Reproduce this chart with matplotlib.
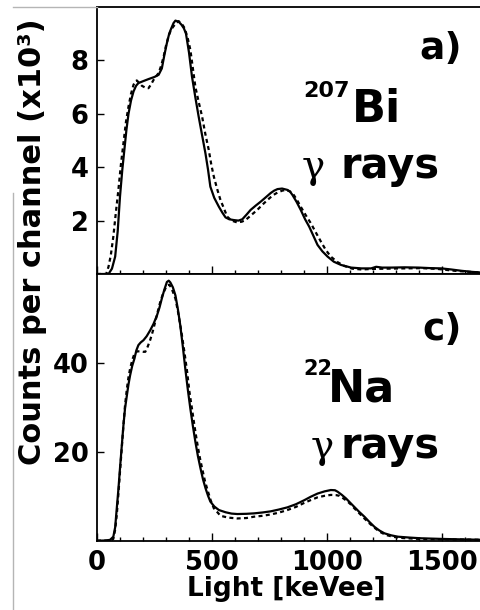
import numpy as np
import matplotlib
matplotlib.use("Agg")
import matplotlib.pyplot as plt
from matplotlib.lines import Line2D
from matplotlib.ticker import MultipleLocator, FixedLocator

# 207Bi spectrum (counts x10^3) - measured (solid) and simulated (dashed)
bi_meas_e = [0, 50, 65, 79, 90, 100, 110, 119, 128, 137, 148, 159, 170, 180, 200, 224, 250, 268, 282,
             293, 304, 314, 323, 333, 341, 355, 367, 378, 387, 400, 413, 428, 442, 457, 472, 483, 493,
             510, 530, 545, 559, 575, 595, 615, 632, 650, 668, 690, 712, 735, 755, 770, 785, 805, 828,
             840, 850, 868, 886, 905, 923, 940, 959, 980, 1003, 1030, 1061, 1105, 1150, 1192, 1214,
             1240, 1280, 1338, 1400, 1450, 1498, 1540, 1585, 1630, 1680]
bi_meas_y = [0, 0.0, 0.2, 0.65, 1.6, 2.9, 3.9, 4.65, 5.4, 6.0, 6.5, 6.84, 7.05, 7.15, 7.22, 7.3, 7.38,
             7.46, 7.7, 8.2, 8.65, 9.0, 9.2, 9.4, 9.49, 9.45, 9.34, 9.2, 9.0, 8.3, 7.4, 6.6, 5.9, 5.2,
             4.5, 3.9, 3.27, 2.85, 2.52, 2.3, 2.12, 2.05, 2.02, 2.0, 2.05, 2.22, 2.4, 2.56, 2.71, 2.88,
             3.03, 3.12, 3.18, 3.2, 3.15, 3.08, 2.96, 2.7, 2.4, 2.05, 1.77, 1.45, 1.09, 0.85, 0.65,
             0.46, 0.34, 0.24, 0.21, 0.21, 0.27, 0.24, 0.24, 0.25, 0.24, 0.22, 0.21, 0.17, 0.12, 0.08,
             0.05]

bi_sim_e = [0, 40, 50, 60, 71, 82, 93, 104, 115, 126, 137, 148, 159, 166, 173, 184, 195, 210, 224, 235,
            246, 257, 268, 279, 290, 300, 311, 322, 333, 344, 355, 368, 381, 394, 406, 417, 428, 442,
            457, 471, 486, 497, 508, 522, 537, 550, 566, 585, 610, 630, 646, 670, 697, 720, 741, 765,
            785, 805, 821, 838, 850, 868, 886, 908, 930, 952, 974, 995, 1017, 1045, 1076, 1110, 1150,
            1200, 1266, 1340, 1410, 1480, 1556, 1620, 1680]
bi_sim_y = [0, 0.0, 0.27, 0.7, 1.4, 2.3, 3.15, 4.1, 4.9, 5.7, 6.27, 6.75, 7.09, 7.2, 7.25, 7.15, 7.05,
            6.98, 6.96, 7.1, 7.27, 7.4, 7.53, 7.8, 8.15, 8.55, 8.9, 9.15, 9.28, 9.4, 9.47, 9.38, 9.21,
            8.85, 8.4, 7.7, 7.0, 6.45, 5.9, 5.25, 4.65, 4.1, 3.65, 3.2, 2.77, 2.5, 2.15, 2.0, 1.93,
            1.96, 2.02, 2.2, 2.4, 2.6, 2.77, 2.95, 3.05, 3.12, 3.15, 3.1, 3.03, 2.8, 2.52, 2.2, 1.9,
            1.55, 1.21, 0.9, 0.65, 0.45, 0.3, 0.2, 0.17, 0.19, 0.2, 0.21, 0.22, 0.19, 0.12, 0.08, 0.05]

# 22Na spectrum (counts) - measured (solid) and simulated (dashed)
na_meas_e = [0, 40, 57, 71, 79, 86, 93, 100, 108, 115, 122, 130, 137, 144, 153, 163, 171, 180, 190, 202,
             216, 231, 246, 261, 272, 282, 293, 304, 312, 319, 330, 341, 352, 362, 373, 384, 395, 406,
             417, 428, 439, 450, 461, 472, 483, 493, 510, 530, 559, 585, 610, 650, 683, 720, 755, 790,
             828, 865, 901, 930, 959, 990, 1017, 1035, 1047, 1065, 1083, 1100, 1119, 1140, 1163, 1185,
             1207, 1228, 1250, 1280, 1309, 1360, 1410, 1500, 1580, 1680]
na_meas_y = [0, 0.05, 0.2, 0.9, 3.0, 7.3, 11.5, 16.3, 21.5, 26, 29.8, 32.7, 35.2, 37.2, 39.3, 41, 42.8,
             44, 44.6, 45.1, 46.0, 47.3, 48.8, 50.7, 52.5, 54.5, 56.5, 58.2, 58.5, 58.1, 57.0, 55.2,
             52.0, 48.5, 43.8, 38.7, 34.0, 29.7, 25.8, 22.2, 19.0, 16.3, 13.8, 11.8, 10.1, 8.8, 7.7,
             6.9, 6.4, 6.1, 6.0, 6.05, 6.15, 6.35, 6.6, 7.0, 7.5, 8.2, 9.1, 9.9, 10.6, 11.1, 11.4,
             11.35, 11.0, 10.3, 9.5, 8.6, 7.6, 6.5, 5.4, 4.2, 3.1, 2.3, 1.66, 1.2, 0.9, 0.7, 0.54, 0.4,
             0.3, 0.2]

na_sim_e = [0, 50, 65, 71, 79, 86, 93, 100, 108, 115, 122, 130, 137, 144, 153, 163, 175, 188, 200, 210,
            220, 231, 242, 253, 264, 275, 286, 297, 305, 314, 322, 330, 341, 354, 367, 380, 392, 402,
            413, 424, 435, 446, 457, 470, 483, 495, 508, 522, 537, 570, 610, 650, 683, 720, 755, 790,
            828, 865, 901, 930, 959, 990, 1017, 1040, 1054, 1072, 1090, 1105, 1119, 1140, 1163, 1185,
            1207, 1230, 1256, 1290, 1330, 1400, 1500, 1600, 1680]
na_sim_y = [0, 0.05, 0.2, 0.4, 2.5, 5.8, 10.5, 15.5, 21, 26, 30.5, 34.2, 36.8, 38.7, 40.6, 42.1, 42.6,
            42.6, 42.5, 42.5, 43.6, 45.1, 47.0, 49.2, 51.5, 53.7, 55.4, 56.7, 57.3, 57.6, 57.0, 56.0,
            54.5, 51.0, 47, 42.5, 38, 33.5, 29.7, 25.8, 22.2, 19.0, 16.3, 13.3, 11, 9.0, 7.3, 6.5,
            5.6, 5.2, 5.0, 5.1, 5.4, 5.6, 5.9, 6.3, 6.9, 7.6, 8.5, 9.15, 9.75, 10.1, 10.3, 10.25, 10.1,
            9.5, 8.8, 8.1, 7.3, 6.2, 5.0, 3.9, 2.9, 2.0, 1.3, 0.85, 0.6, 0.4, 0.3, 0.25, 0.2]

x_ticks = [0, 500, 1000, 1500]
bi_yticks = [2, 4, 6, 8]
na_yticks = [20, 40]

W, H = 481, 610


def fx(x):
    return x / W


def fy(y):
    return 1 - y / H


plt.rcParams['font.family'] = 'DejaVu Sans'

fig = plt.figure(figsize=(W / 100, H / 100), dpi=100)
ax_top = fig.add_axes([fx(97), fy(274), 1 - fx(97), (274 - 7) / H])
ax_bot = fig.add_axes([fx(97), fy(540.7), 1 - fx(97), (540.7 - 274) / H])

for ax in (ax_top, ax_bot):
    ax.set_xlim(0, 1670)
    ax.spines['right'].set_visible(False)
    for s in ('left', 'bottom', 'top'):
        ax.spines[s].set_linewidth(1.3)
    ax.xaxis.set_major_locator(FixedLocator(x_ticks))
    ax.xaxis.set_minor_locator(MultipleLocator(100))
    ax.tick_params(axis='x', which='major', direction='in', length=6, width=1.0, top=False)
    ax.tick_params(axis='x', which='minor', direction='in', length=3, width=1.0, top=False)
    ax.tick_params(axis='y', which='major', direction='in', length=5, width=1.0, right=False,
                   pad=6, labelsize=18.5)

lw = 1.6
dash = (0, (1.8, 1.5))
ax_top.plot(bi_meas_e, bi_meas_y, color='black', lw=lw, solid_joinstyle='round')
ax_top.plot(bi_sim_e, bi_sim_y, color='black', lw=lw, linestyle=dash)
ax_top.set_ylim(0, 10)
ax_top.set_yticks(bi_yticks)
ax_top.set_yticklabels([str(v) for v in bi_yticks], fontweight='bold', fontsize=18.5)
ax_top.tick_params(axis='x', labelbottom=False)

ax_bot.plot(na_meas_e, na_meas_y, color='black', lw=lw, solid_joinstyle='round')
ax_bot.plot(na_sim_e, na_sim_y, color='black', lw=lw, linestyle=dash)
ax_bot.set_ylim(0, 60)
ax_bot.set_yticks(na_yticks)
ax_bot.set_yticklabels([str(v) for v in na_yticks], fontweight='bold', fontsize=18.5)
ax_bot.set_xticklabels([str(v) for v in x_ticks], fontweight='bold', fontsize=18.5)
ax_bot.tick_params(axis='x', which='major', pad=7)

# axis labels
fig.text(fx(286), fy(589), 'Light [keVee]', ha='center', va='center',
         fontsize=19, fontweight='bold')
fig.text(fx(33), fy(242), 'Counts per channel (x10³)', ha='center', va='center',
         rotation=90, fontsize=22, fontweight='bold')

# panel annotations
fig.text(fx(462), fy(49), 'a)', ha='right', va='center', fontsize=27, fontweight='bold')
fig.text(fx(303), fy(97), '207', ha='left', va='baseline', fontsize=16, fontweight='bold')
fig.text(fx(352), fy(121.6), 'Bi', ha='left', va='baseline', fontsize=32, fontweight='bold')
fig.text(fx(302), fy(178), 'γ', ha='left', va='baseline', fontsize=28, family='DejaVu Serif')
fig.text(fx(340), fy(178), 'rays', ha='left', va='baseline', fontsize=30, fontweight='bold')

fig.text(fx(462), fy(330), 'c)', ha='right', va='center', fontsize=27, fontweight='bold')
fig.text(fx(303), fy(375), '22', ha='left', va='baseline', fontsize=15, fontweight='bold')
fig.text(fx(328), fy(402), 'Na', ha='left', va='baseline', fontsize=32, fontweight='bold')
fig.text(fx(311), fy(458), 'γ', ha='left', va='baseline', fontsize=28, family='DejaVu Serif')
fig.text(fx(340), fy(458), 'rays', ha='left', va='baseline', fontsize=30, fontweight='bold')

# faint scan border lines
fig.add_artist(Line2D([fx(13), fx(13)], [fy(193), fy(610)], color='#b5b5b5', lw=1.0))
fig.add_artist(Line2D([fx(13), fx(97)], [fy(7), fy(7)], color='#b5b5b5', lw=1.0))

fig.savefig('out.png', dpi=100)
